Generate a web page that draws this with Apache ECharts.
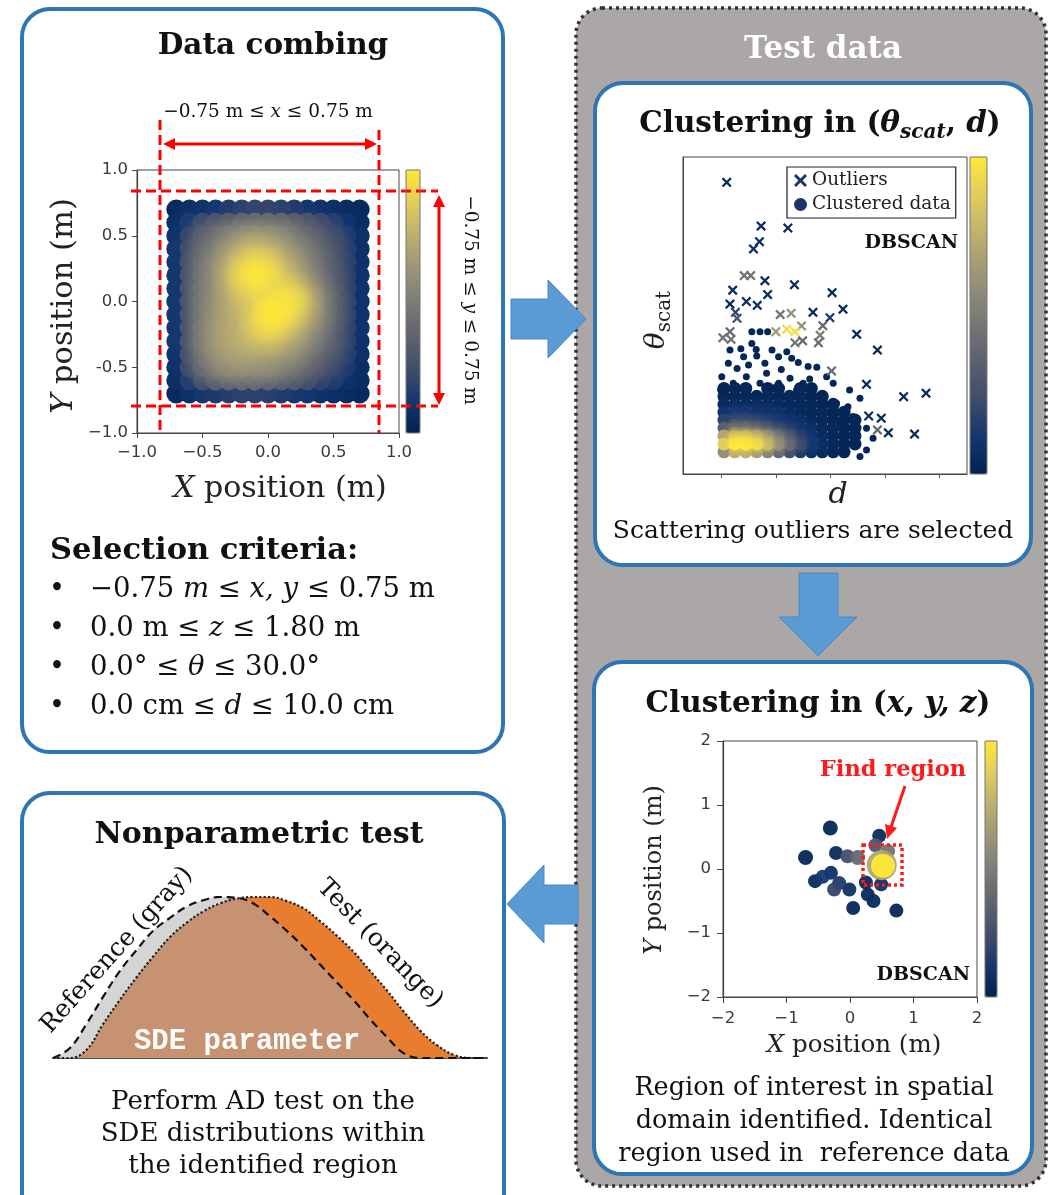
<!DOCTYPE html>
<html><head><meta charset="utf-8">
<script src="https://cdn.jsdelivr.net/npm/echarts@6/dist/echarts.min.js"></script>
<style>html,body{margin:0;padding:0;background:#fff}#c{width:1048px;height:1195px}</style>
</head><body><div id="c"></div><script>
// ---------- DATA ----------
const cividis = ['#00224e','#123570','#3b496c','#575d6d','#707173','#8a8779','#a69d75','#c4b56c','#e4cf5b','#fee838'];

// Panel 1: density of events inside the detector (estimated grid, colour 0-100)
const p1Xs = [-0.7,-0.6,-0.5,-0.4,-0.3,-0.2,-0.1,0,0.1,0.2,0.3,0.4,0.5,0.6,0.7];
const p1Ys = [0.7,0.6,0.5,0.4,0.3,0.2,0.1,0,-0.1,-0.2,-0.3,-0.4,-0.5,-0.6,-0.7];
const p1Density = [
  [5, 8,10,12,15,18,20,20,18,15,12,10, 8, 6, 5],
  [8,15,22,28,33,38,40,40,38,33,28,22,16,10, 6],
  [10,20,32,42,50,56,60,58,54,46,38,30,22,14, 8],
  [12,24,38,50,62,72,78,74,66,56,46,36,26,16, 8],
  [12,26,42,55,70,85,92,88,76,64,52,40,28,17, 9],
  [12,27,44,58,74,92,100,95,82,70,56,42,30,18,10],
  [12,28,45,58,72,86,92,92,90,84,66,48,32,19,10],
  [12,28,46,58,70,78,84,94,98,95,76,54,34,20,10],
  [12,28,46,60,70,76,88,100,98,88,70,52,34,20,10],
  [12,28,47,62,70,76,86,94,88,76,62,48,32,19,10],
  [12,28,47,62,70,74,78,80,74,66,54,42,30,18, 9],
  [10,26,44,58,66,68,68,66,62,56,46,36,26,16, 8],
  [9,22,38,50,56,58,57,55,50,44,36,28,20,13, 7],
  [7,16,26,34,38,40,40,38,34,30,24,18,14, 9, 6],
  [5, 8,12,14,16,18,18,17,15,13,11, 9, 7, 6, 5]
];
const p1YTickLabels = {'-1':'\u22121.0','-0.5':'-0.5','0':'0.0','0.5':'0.5','1':'1.0'};
const p1XTickLabels = {'-1':'\u22121.0','-0.5':'\u22120.5','0':'0.0','0.5':'0.5','1':'1.0'};

// Panel 2: (d, theta_scat, colour)
const p2Outliers = [
  [0.10,9.20,5],[0.73,7.82,5],[1.22,7.76,5],[0.70,7.33,8],[0.59,7.10,8],
  [0.42,6.26,45],[0.54,6.26,45],[0.80,6.10,5],[1.34,5.97,5],[0.21,5.80,5],
  [0.85,5.66,8],[2.03,5.72,5],[0.16,5.36,5],[0.46,5.44,8],[0.66,5.32,8],
  [0.26,5.10,20],[0.29,4.91,28],[1.08,5.03,45],[1.28,5.07,60],[1.68,5.10,5],
  [2.23,5.20,5],[1.99,4.93,15],[1.86,4.68,40],[1.00,4.49,65],[1.20,4.57,95],
  [1.35,4.49,95],[1.47,4.67,60],[0.16,4.49,40],[0.03,4.30,45],[0.18,4.25,45],
  [1.35,4.14,45],[1.49,4.20,40],[1.81,4.38,50],[1.78,4.14,40],[2.48,4.41,5],
  [2.86,3.91,5],[2.02,3.25,40],[2.66,2.83,5],[3.34,2.44,5],[3.75,2.55,5],
  [2.70,1.83,5],[2.93,1.76,5],[2.86,1.39,40],[3.06,1.30,5],[3.54,1.26,5]
];
const p2ClusterDots = [
  [0.56,4.49,3],[0.71,4.49,3],[0.85,4.49,3],[0.56,4.12,3],[0.64,3.93,3],[0.16,3.91,3],
  [0.41,3.70,3],[0.65,3.72,3],[1.05,3.70,3],[1.29,3.65,3],[1.41,3.52,3],[1.59,3.39,3],
  [1.75,3.37,3],[0.13,3.49,3],[0.29,3.33,3],[0.50,3.44,3],[0.80,3.49,3],[0.93,3.91,3],
  [1.20,3.86,3],[0.01,3.07,3],[0.46,3.07,3],[0.83,3.18,3],[1.26,3.02,3],[1.50,2.86,3],
  [1.68,2.65,3],[1.93,3.07,3],[2.05,2.86,3],[2.35,2.65,3],[2.54,2.39,3],[2.32,2.12,3],
  [2.41,1.81,3],[2.11,2.23,3],[1.87,2.44,3],[2.66,1.44,3],[2.78,1.13,3],[2.66,0.76,3],
  [2.54,0.55,3],[2.41,0.97,3],[2.29,1.28,3],[2.17,1.60,3],[1.05,2.86,3],[0.71,2.86,3],
  [0.22,2.86,3],[1.38,2.65,3],[-0.01,2.65,3],[1.10,3.30,3],[0.36,3.95,3],[1.62,3.00,3]
];
const p2DensD = [0.05,0.25,0.45,0.65,0.85,1.05,1.25,1.45,1.65,1.85,2.05,2.25,2.45];
const p2DensTheta = [2.7,2.45,2.2,1.95,1.7,1.45,1.2,0.95,0.7];
const p2Density = [ // -1 : no point
  [3,3,3,-1,3,3,-1,3,3,-1,-1,-1,-1],
  [4,4,4,4,4,4,4,4,3,3,-1,-1,-1],
  [6,6,6,6,6,5,5,4,4,3,3,-1,-1],
  [10,12,12,10,9,8,6,5,4,4,3,3,-1],
  [18,22,22,20,16,12,9,7,5,4,3,3,3],
  [35,45,45,40,32,24,16,10,7,5,4,3,3],
  [70,88,88,80,66,48,32,18,10,6,4,3,3],
  [88,100,100,95,80,60,40,24,12,7,4,3,3],
  [60,75,75,68,55,40,26,15,8,5,3,3,-1]
];
const p2TickValues = [0,1,2,3,4];

// Panel 3: (x, y, colour, marker size)
const p3Points = [
  [-0.31,0.64,3,15],[-0.70,0.18,3,15],[-0.22,0.25,5,14],[-0.04,0.20,25,14],[0.12,0.18,40,15],
  [0.46,0.52,5,14],[0.40,0.37,30,14],[0.60,0.28,45,14],[-0.30,-0.06,8,14],[-0.43,-0.12,12,14],
  [-0.55,-0.19,5,14],[-0.17,-0.22,15,14],[-0.25,-0.32,20,14],[-0.01,-0.32,8,14],[0.28,-0.40,5,14],
  [0.37,-0.50,5,14],[0.05,-0.61,3,14],[0.73,-0.65,3,14],[0.25,-0.21,5,14],[0.49,-0.24,8,14],
  [0.50,0.06,70,30],[0.52,0.05,100,24]
];
const p3TickLabels = {'-2':'\u22122','-1':'\u22121','0':'0','1':'1','2':'2'};

// Panel 4: sketched SDE-parameter distributions
const p4X    = [10,15,20,25,30,35,40,45,50,55,60,65,70,75,80,85,90,95,100,105,110,115,120,125,130,135,140];
const p4Ref  = [0,0.06,0.21,0.38,0.54,0.67,0.79,0.87,0.94,0.98,1.0,0.995,0.96,0.88,0.79,0.69,0.58,0.47,0.36,0.24,0.13,0.03,0,0,0,0,0];
const p4Test = [0,0,0.05,0.21,0.36,0.50,0.63,0.75,0.84,0.91,0.96,0.99,1.0,1.0,0.975,0.93,0.85,0.76,0.66,0.54,0.42,0.29,0.17,0.08,0.02,0,0];

// ---------- HELPERS ----------
const stopRGB = cividis.map(h=>[parseInt(h.slice(1,3),16),parseInt(h.slice(3,5),16),parseInt(h.slice(5,7),16)]);
function cmap(v, a) {
  const t = Math.max(0, Math.min(1, v/100)) * (stopRGB.length-1);
  const i = Math.min(stopRGB.length-2, Math.floor(t)), f = t - i;
  const c = stopRGB[i].map((s,k)=>Math.round(s + (stopRGB[i+1][k]-s)*f));
  return 'rgba('+c[0]+','+c[1]+','+c[2]+','+a+')';
}
function softItem(p) {
  return {value: p, itemStyle: {color: {type:'radial', x:0.5, y:0.5, r:0.5, colorStops:[
    {offset:0, color:cmap(p[2],1)}, {offset:0.45, color:cmap(p[2],0.75)}, {offset:1, color:cmap(p[2],0)}]}}};
}

// ---------- BUILD ----------
const p1Data = [];
p1Ys.forEach((y,i)=>p1Xs.forEach((x,j)=>p1Data.push([x,y,p1Density[i][j]])));
p1Data.sort((a,b)=>a[2]-b[2]);
const p1Soft = p1Data.filter(p=>Math.abs(p[0])<=0.51 && Math.abs(p[1])<=0.51).map(softItem);

const p2DensData = [];
p2DensTheta.forEach((t,i)=>p2DensD.forEach((d,j)=>{ if(p2Density[i][j]>=0) p2DensData.push([d,t,p2Density[i][j]]); }));
p2DensData.sort((a,b)=>a[2]-b[2]);
const p2Soft = p2DensData.filter(p=>p[2]>=9 && p[0]>=0.2 && p[1]>=0.9).map(softItem);
const p2Out = p2Outliers.slice().sort((a,b)=>a[2]-b[2]);
const p3Data = p3Points.slice().sort((a,b)=>a[2]-b[2]);

const p4RefData  = p4X.map((x,i)=>[x,p4Ref[i]]);
const p4TestData = p4X.map((x,i)=>[x,p4Test[i]]);
const p4MinData  = p4X.map((x,i)=>[x,Math.min(p4Ref[i],p4Test[i])]);

const SERIF = 'DejaVu Serif';
const BLUE = '#2e75b6';
const CROSS = 'path://M0,1.6 L1.6,0 L5,3.4 L8.4,0 L10,1.6 L6.6,5 L10,8.4 L8.4,10 L5,6.6 L1.6,10 L0,8.4 L3.4,5 Z';

function T(x, y, text, o) {
  o = o || {};
  return {
    type: 'text', x: x, y: y, rotation: o.rot || 0, z: 100,
    style: {
      text: text, x: 0, y: 0,
      fill: o.color || '#111',
      fontSize: o.size || 22, fontFamily: o.family || SERIF,
      fontWeight: o.bold ? 'bold' : 'normal', fontStyle: o.italic ? 'italic' : 'normal',
      align: o.align || 'center', verticalAlign: o.valign || 'middle',
      textAlign: o.align || 'center', textVerticalAlign: o.valign || 'middle',
      rich: o.rich
    }
  };
}
function rs(size, bold, italic, extra) {
  return Object.assign({fontSize: size, fontFamily: SERIF, fontWeight: bold ? 'bold' : 'normal',
    fontStyle: italic ? 'italic' : 'normal', fill: '#111', color: '#111', lineHeight: size + 6}, extra || {});
}
function redLine(x1,y1,x2,y2,dash,w){
  return {type:'line', z:90, shape:{x1,y1,x2,y2}, style:{stroke:'#ff0000', lineWidth:w||3, lineDash:dash||null}};
}
function tri(pts,color){ return {type:'polygon', z:91, shape:{points:pts}, style:{fill:color||'#ff0000'}}; }

const graphics = [
  // boxes
  {type:'rect', z:-5, shape:{x:22,y:9,width:481,height:743,r:28}, style:{fill:'#fff',stroke:BLUE,lineWidth:4}},
  {type:'rect', z:-5, shape:{x:22,y:793,width:482,height:440,r:28}, style:{fill:'#fff',stroke:BLUE,lineWidth:4}},
  {type:'rect', z:-6, shape:{x:576,y:8,width:470,height:1178,r:26}, style:{fill:'#aba7a6',stroke:'#333',lineWidth:3.5,lineDash:[3,4]}},
  {type:'rect', z:-4, shape:{x:595,y:83,width:436,height:482,r:28}, style:{fill:'#fff',stroke:BLUE,lineWidth:4}},
  {type:'rect', z:-4, shape:{x:594,y:662,width:438,height:512,r:28}, style:{fill:'#fff',stroke:BLUE,lineWidth:4}},
  // blue arrows
  {type:'polygon', z:50, shape:{points:[[511,299],[548,299],[548,280],[586,319],[548,358],[548,339],[511,339]]}, style:{fill:'#5b9bd5',stroke:'#4a86c4',lineWidth:1}},
  {type:'polygon', z:50, shape:{points:[[799,573],[838,573],[838,617],[857,617],[818,656],[779,617],[799,617]]}, style:{fill:'#5b9bd5',stroke:'#4a86c4',lineWidth:1}},
  {type:'polygon', z:50, shape:{points:[[578,885],[544,885],[544,865],[507,904],[544,943],[544,924],[578,924]]}, style:{fill:'#5b9bd5',stroke:'#4a86c4',lineWidth:1}},

  // ---- panel 1 ----
  T(273,46,'Data combing',{size:29.5,bold:true}),
  T(268,112,'{a|\u22120.75 m \u2264 }{i|x}{a| \u2264 0.75 m}',{rich:{a:rs(18.5,false,false),i:rs(18.5,false,true)}}),
  T(470,300,'{a|\u22120.75 m \u2264 }{i|y}{a| \u2264 0.75 m}',{rot:-Math.PI/2,rich:{a:rs(18.5,false,false),i:rs(18.5,false,true)}}),
  redLine(160,120,160,433,[10,5]), redLine(379,130,379,433,[10,5]),
  redLine(131,191,438,191,[10,5]), redLine(131,406,438,406,[10,5]),
  redLine(172,144,368,144,null,3), tri([[163,144],[175,138],[175,150]]), tri([[377,144],[365,138],[365,150]]),
  redLine(439,204,439,396,null,3), tri([[439,195],[433,207],[445,207]]), tri([[439,405],[433,393],[445,393]]),
  T(64,306,'{i|Y}{a| position (m)}',{rot:Math.PI/2,rich:{a:rs(30.5,false,false,{fill:'#222'}),i:rs(30.5,false,true,{fill:'#222'})}}),
  T(280,489,'{i|X}{a| position (m)}',{rich:{a:rs(30,false,false,{fill:'#222'}),i:rs(30,false,true,{fill:'#222'})}}),
  {type:'rect', z:95, shape:{x:406,y:170,width:14,height:263}, style:{fill:null,stroke:'#777',lineWidth:1}},
  T(50,551,'Selection criteria:',{size:30.5,bold:true,align:'left'}),
  T(57,590,'\u2022',{size:27}), T(57,629,'\u2022',{size:27}), T(57,668,'\u2022',{size:27}), T(57,707,'\u2022',{size:27}),
  T(90,590,'{a|\u22120.75 }{i|m}{a| \u2264 }{i|x, y}{a| \u2264 0.75 m}',{align:'left',rich:{a:rs(27.5,false,false),i:rs(27.5,false,true)}}),
  T(90,629,'{a|0.0 m \u2264 }{i|z}{a| \u2264 1.80 m}',{align:'left',rich:{a:rs(27.5,false,false),i:rs(27.5,false,true)}}),
  T(90,668,'{a|0.0\u00b0 \u2264 }{i|\u03b8}{a| \u2264 30.0\u00b0}',{align:'left',rich:{a:rs(27.5,false,false),i:rs(27.5,false,true)}}),
  T(90,707,'{a|0.0 cm \u2264 }{i|d}{a| \u2264 10.0 cm}',{align:'left',rich:{a:rs(27.5,false,false),i:rs(27.5,false,true)}}),

  // ---- panel 2 ----
  T(823,50,'Test data',{size:31,bold:true,color:'#fff'}),
  T(820,124,'{b|Clustering in (}{bi|\u03b8}{sub|scat}{b|, }{bi|d}{b|)}',{rich:{
     b:rs(29.5,true,false), bi:rs(29.5,true,true), sub:rs(20,true,true,{padding:[18,0,0,0]})}}),
  T(657,320,'{i|\u03b8}{s|scat}',{rot:Math.PI/2,rich:{i:rs(28,false,true,{fill:'#222'}),s:rs(20,false,false,{fill:'#222',padding:[16,0,0,0]})}}),
  T(838,495,'d',{size:30,italic:true,color:'#222'}),
  T(958,243,'DBSCAN',{size:19,bold:true,align:'right'}),
  {type:'rect', z:95, shape:{x:970,y:157,width:17,height:317}, style:{fill:null,stroke:'#777',lineWidth:1}},
  T(813,531,'Scattering outliers are selected',{size:25}),

  // ---- panel 3 ----
  T(818,704,'{b|Clustering in (}{bi|x, y, z}{b|)}',{rich:{b:rs(29.5,true,false),bi:rs(29.5,true,true)}}),
  T(893,770,'Find region',{size:22.5,bold:true,color:'#ff1a1a'}),
  {type:'line', z:96, shape:{x1:905,y1:786,x2:891,y2:827}, style:{stroke:'#ff1a1a',lineWidth:3}},
  tri([[887,839],[885,824],[897,828]],'#ff1a1a'),
  {type:'rect', z:96, shape:{x:863,y:845,width:39,height:40}, style:{fill:null,stroke:'#ff1a1a',lineWidth:3.5,lineDash:[3,3]}},
  T(970,975,'DBSCAN',{size:19,bold:true,align:'right'}),
  {type:'rect', z:95, shape:{x:985,y:741,width:12,height:256}, style:{fill:null,stroke:'#777',lineWidth:1}},
  T(854,1046,'{i|X}{a| position (m)}',{rich:{a:rs(24.5,false,false,{fill:'#222'}),i:rs(24.5,false,true,{fill:'#222'})}}),
  T(655,870,'{i|Y}{a| position (m)}',{rot:Math.PI/2,rich:{a:rs(24,false,false,{fill:'#222'}),i:rs(24,false,true,{fill:'#222'})}}),
  T(814,1088,'Region of interest in spatial',{size:25.5}),
  T(814,1121,'domain identified. Identical',{size:25.5}),
  T(814,1154,'region used in  reference data',{size:25.5}),

  // ---- panel 4 ----
  T(259,835,'Nonparametric test',{size:30,bold:true}),
  T(117,950,'Reference (gray)',{size:25,rot:0.84}),
  T(380,944,'Test (orange)',{size:25,rot:-0.80}),
  T(247,1042,'SDE parameter',{size:29,bold:true,family:'Liberation Mono',color:'#fff'}),
  T(263,1102,'Perform AD test on the',{size:26}),
  T(263,1134,'SDE distributions within',{size:26}),
  T(263,1166,'the identified region',{size:26})
];

const tickLbl = {fontFamily:'DejaVu Sans', fontSize:16.5, color:'#3a3a3a'};

const option = {
  animation: false,
  backgroundColor: '#fff',
  graphic: {elements: graphics},
  legend: {
    data: ['Outliers','Clustered data'], selectedMode: false,
    left: 787, top: 167, orient: 'vertical', padding: [4,5,4,7], itemGap: 5,
    itemWidth: 13, itemHeight: 13, borderColor: '#222', borderWidth: 1.2,
    backgroundColor: '#fff', z: 20,
    textStyle: {fontFamily: SERIF, fontSize: 18.5, color: '#222'}
  },
  grid: [
    {left:137, top:170, width:262, height:263, show:true, borderColor:'#444', borderWidth:1, backgroundColor:'#fff'},
    {left:683, top:157, width:284, height:317, show:true, borderColor:'#444', borderWidth:1, backgroundColor:'#fff'},
    {left:723, top:741, width:254, height:256, show:true, borderColor:'#444', borderWidth:1, backgroundColor:'#fff'},
    {left:53, top:897, width:434, height:161, show:false}
  ],
  xAxis: [
    {gridIndex:0, type:'value', min:-1, max:1, interval:0.5,
     axisLine:{show:true,onZero:false,lineStyle:{color:'#444',width:1.2}}, axisTick:{show:true,length:5,lineStyle:{color:'#444'}},
     splitLine:{show:false}, axisLabel:Object.assign({margin:11, formatter:v=>p1XTickLabels[String(v)]},tickLbl)},
    {gridIndex:1, type:'value', min:-0.7, max:4.5,
     axisLine:{show:true,onZero:false,lineStyle:{color:'#444'}}, axisTick:{show:true,length:4,customValues:p2TickValues,lineStyle:{color:'#555'}},
     splitLine:{show:false}, axisLabel:{show:false}},
    {gridIndex:2, type:'value', min:-2, max:2, interval:1,
     axisLine:{show:true,onZero:false,lineStyle:{color:'#444',width:1.2}}, axisTick:{show:true,length:6,lineStyle:{color:'#444'}},
     splitLine:{show:false}, axisLabel:Object.assign({margin:13, formatter:v=>p3TickLabels[String(v)]},tickLbl)},
    {gridIndex:3, type:'value', min:10, max:140,
     axisLine:{show:true,onZero:false,lineStyle:{color:'#555',width:2}}, axisTick:{show:false}, splitLine:{show:false}, axisLabel:{show:false}}
  ],
  yAxis: [
    {gridIndex:0, type:'value', min:-1, max:1, interval:0.5,
     axisLine:{show:true,onZero:false,lineStyle:{color:'#444',width:1.2}}, axisTick:{show:true,length:5,lineStyle:{color:'#444'}},
     splitLine:{show:false}, axisLabel:Object.assign({margin:9, formatter:v=>p1YTickLabels[String(v)]},tickLbl)},
    {gridIndex:1, type:'value', min:0, max:10,
     axisLine:{show:true,onZero:false,lineStyle:{color:'#444'}}, axisTick:{show:false}, splitLine:{show:false}, axisLabel:{show:false}},
    {gridIndex:2, type:'value', min:-2, max:2, interval:1,
     axisLine:{show:true,onZero:false,lineStyle:{color:'#444',width:1.2}}, axisTick:{show:true,length:6,lineStyle:{color:'#444'}},
     splitLine:{show:false}, axisLabel:Object.assign({margin:12, formatter:v=>p3TickLabels[String(v)]},tickLbl)},
    {gridIndex:3, type:'value', min:0, max:1, show:false}
  ],
  visualMap: [
    {type:'continuous', seriesIndex:0, dimension:2, min:0, max:100, inRange:{color:cividis},
     left:406, top:170, itemWidth:14, itemHeight:263, calculable:false, padding:0, text:null, hoverLink:false},
    {type:'continuous', seriesIndex:[2,3,5], dimension:2, min:0, max:100, inRange:{color:cividis},
     left:970, top:157, itemWidth:17, itemHeight:317, calculable:false, padding:0, text:null, hoverLink:false},
    {type:'continuous', seriesIndex:6, dimension:2, min:0, max:100, inRange:{color:cividis},
     left:985, top:741, itemWidth:12, itemHeight:256, calculable:false, padding:0, text:null, hoverLink:false}
  ],
  series: [
    {type:'scatter', name:'density', xAxisIndex:0, yAxisIndex:0, data:p1Data, symbolSize:20, itemStyle:{opacity:1}, silent:true},
    {type:'scatter', name:'densitySoft', xAxisIndex:0, yAxisIndex:0, data:p1Soft, symbolSize:40, silent:true},
    {type:'scatter', name:'Clustered data', xAxisIndex:1, yAxisIndex:1, data:p2ClusterDots, symbol:'circle', symbolSize:7, itemStyle:{color:'#1b3567',opacity:1}, silent:true},
    {type:'scatter', name:'clusterDensity', xAxisIndex:1, yAxisIndex:1, data:p2DensData, symbolSize:13, itemStyle:{opacity:1}, silent:true},
    {type:'scatter', name:'clusterSoft', xAxisIndex:1, yAxisIndex:1, data:p2Soft, symbolSize:21, silent:true},
    {type:'scatter', name:'Outliers', xAxisIndex:1, yAxisIndex:1, data:p2Out, symbol:CROSS, symbolSize:10, itemStyle:{color:'#1b3567',opacity:1}, silent:true},
    {type:'scatter', name:'points3', xAxisIndex:2, yAxisIndex:2, data:p3Data, symbolSize:v=>v[3], itemStyle:{opacity:0.95}, silent:true},
    {type:'line', xAxisIndex:3, yAxisIndex:3, data:p4TestData, smooth:0.4, symbol:'none', lineStyle:{width:0}, areaStyle:{color:'#e97d2f',opacity:1}, silent:true, z:2},
    {type:'line', xAxisIndex:3, yAxisIndex:3, data:p4RefData, smooth:0.4, symbol:'none', lineStyle:{width:0}, areaStyle:{color:'#d5d5d5',opacity:1}, silent:true, z:3},
    {type:'line', xAxisIndex:3, yAxisIndex:3, data:p4MinData, smooth:0.4, symbol:'none', lineStyle:{width:0}, areaStyle:{color:'#c79272',opacity:1}, silent:true, z:4},
    {type:'line', xAxisIndex:3, yAxisIndex:3, data:p4TestData, smooth:0.4, symbol:'none', lineStyle:{width:2.2,color:'#222',type:'dotted'}, silent:true, z:5},
    {type:'line', xAxisIndex:3, yAxisIndex:3, data:p4RefData, smooth:0.4, symbol:'none', lineStyle:{width:2.2,color:'#111',type:[8,5]}, silent:true, z:6}
  ]
};
const chart = echarts.init(document.getElementById('c'), null, {renderer:'canvas'});
chart.setOption(option);
</script></body></html>
